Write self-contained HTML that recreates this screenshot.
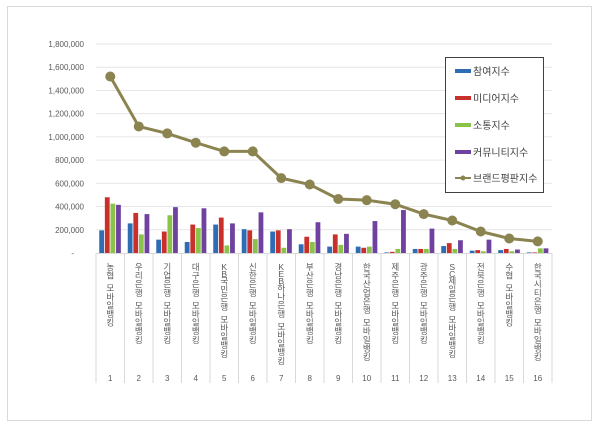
<!DOCTYPE html>
<html><head><meta charset="utf-8">
<style>
body{margin:0;background:#fff;width:600px;height:428px;overflow:hidden;font-family:"Liberation Sans","Noto Sans CJK KR",sans-serif;}
svg text{font-family:"Liberation Sans","Noto Sans CJK KR",sans-serif;}
</style></head><body>
<svg id="chart" width="600" height="428" xmlns="http://www.w3.org/2000/svg">
<rect x="7.5" y="6.5" width="584" height="414" fill="#fff" stroke="#d9d9d9"/>
<g id="grid"></g><g id="bars"></g><g id="line"></g><g id="xlab"></g>
<g>
<rect x="445.5" y="57.5" width="98" height="135" fill="#fff" stroke="#404040"/>
<rect x="455" y="69" width="16" height="4" fill="#2e6db4"/>
<text x="473" y="75" font-size="10" fill="#404040">참여지수</text>
<rect x="455" y="96" width="16" height="4" fill="#c9302c"/>
<text x="473" y="102" font-size="10" fill="#404040">미디어지수</text>
<rect x="455" y="123" width="16" height="4" fill="#8bc34a"/>
<text x="473" y="129" font-size="10" fill="#404040">소통지수</text>
<rect x="455" y="150" width="16" height="4" fill="#6f42a0"/>
<text x="473" y="156" font-size="10" fill="#404040">커뮤니티지수</text>
<line x1="455" y1="178" x2="471" y2="178" stroke="#8b8450" stroke-width="2"/>
<circle cx="463" cy="178" r="2.5" fill="#8b8450"/>
<text x="473" y="182" font-size="10" fill="#404040">브랜드평판지수</text>
</g>
</svg>
<script>
const categories=["농협 모바일뱅킹","우리은행 모바일뱅킹","기업은행 모바일뱅킹","대구은행 모바일뱅킹","KB국민은행 모바일뱅킹","신한은행 모바일뱅킹","KEB하나은행 모바일뱅킹","부산은행 모바일뱅킹","경남은행 모바일뱅킹","한국산업은행 모바일뱅킹","제주은행 모바일뱅킹","광주은행 모바일뱅킹","SC제일은행 모바일뱅킹","전북은행 모바일뱅킹","수협 모바일뱅킹","한국시티은행 모바일뱅킹"];
const participation=[195000,255000,115000,95000,245000,205000,185000,75000,55000,55000,5000,35000,60000,20000,25000,5000];
const media=[480000,345000,185000,245000,305000,195000,195000,140000,160000,45000,10000,35000,85000,25000,35000,5000];
const communication=[425000,160000,325000,215000,65000,120000,45000,95000,70000,55000,35000,35000,35000,15000,15000,40000];
const community=[415000,335000,395000,385000,255000,350000,205000,265000,165000,275000,370000,210000,110000,115000,30000,40000];
const brand=[1520000,1090000,1030000,950000,875000,875000,645000,590000,465000,455000,420000,335000,280000,185000,125000,100000];
const yTicks=[0,200000,400000,600000,800000,1000000,1200000,1400000,1600000,1800000];
const yTickLabels=["-","200,000","400,000","600,000","800,000","1,000,000","1,200,000","1,400,000","1,600,000","1,800,000"];
const NS="http://www.w3.org/2000/svg";
const X0=96,X1=552,Y0=253,Y1=44,YMAX=1800000;
const bw=(X1-X0)/categories.length;
function y(v){return Y0-(v/YMAX)*(Y0-Y1);}
function xc(i){return X0+bw*(i+0.5);}
function mk(t,a,p){const e=document.createElementNS(NS,t);for(const k in a)e.setAttribute(k,a[k]);p.appendChild(e);return e;}
const grid=document.getElementById('grid');
yTicks.forEach((v,i)=>{
  if(i>0){const l=mk('line',{x1:X0,x2:X1,y1:y(v),y2:y(v),stroke:'#e6e6e6'},grid);
  
  }
  const t=mk('text',{x:i==0?74:84,y:y(v)+3,'font-size':'8','text-anchor':'end',fill:'#595959'},grid);
  t.textContent=yTickLabels[i];
  
  
});
const ax=mk('line',{x1:X0,x2:X1,y1:Y0+0.5,y2:Y0+0.5,stroke:'#d9d9d9'},grid);


for(let i=0;i<=categories.length;i++){
  const l=mk('line',{x1:X0+bw*i,x2:X0+bw*i,y1:Y0,y2:383,stroke:'#d9d9d9'},grid);
  
  
}
const series=[[participation,'#2e6db4','participation'],[media,'#c9302c','media'],[communication,'#8bc34a','communication'],[community,'#6f42a0','community']];
const bars=document.getElementById('bars');
const w=4.8;
categories.forEach((c,i)=>{
  series.forEach((s,j)=>{
    const v=s[0][i];
    const r=mk('rect',{x:xc(i)-11+j*(w+0.8),y:y(v),width:w,height:Y0-y(v),fill:s[1]},bars);
    
    
  });
});
const lg=document.getElementById('line');
const pl=mk('polyline',{points:brand.map((v,i)=>xc(i)+','+y(v)).join(' '),fill:'none',stroke:'#8b8450','stroke-width':'3'},lg);


brand.forEach((v,i)=>{
  const p=mk('circle',{cx:xc(i),cy:y(v),r:5,fill:'#8b8450'},lg);
  
  
});
const xl=document.getElementById('xlab');
categories.forEach((c,i)=>{
  const chars=Array.from(c);
  const t=mk('text',{'font-size':'8.5',fill:'#595959','text-anchor':'middle'},xl);
  
  
  let yy=270;
  chars.forEach(ch=>{
    if(ch===' '){yy+=4;return;}
    const ts=mk('tspan',{x:xc(i),y:yy},t);
    ts.textContent=ch;
    yy+=(/[A-Za-z]/.test(ch)?7:8.6);
  });
  const n=mk('text',{x:xc(i),y:381,'font-size':'8','text-anchor':'middle',fill:'#595959'},xl);
  n.textContent=String(i+1);
  
  
});
</script>
</body></html>
